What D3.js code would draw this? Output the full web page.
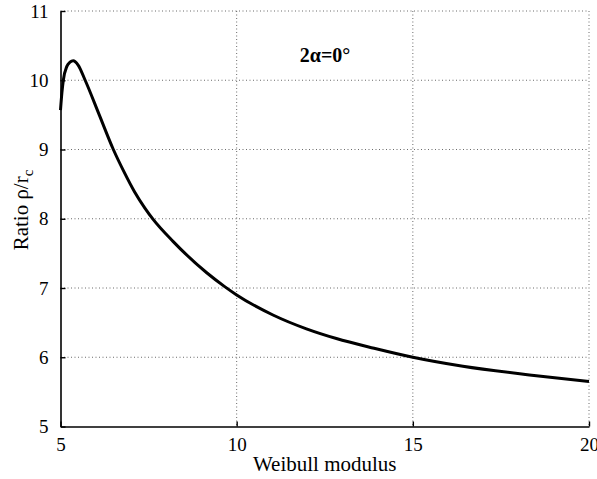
<!DOCTYPE html>
<html>
<head>
<meta charset="utf-8">
<script src="https://cdn.jsdelivr.net/npm/d3@7"></script>
<style>
  body { margin: 0; background: #fff; }
  svg { display: block; }
  text { font-family: "Liberation Serif", "Times New Roman", serif; fill: #000; }
</style>
</head>
<body>
<div id="chart"></div>
<script>
// Weibull modulus vs ratio rho/rc
var modulus = [5.0, 5.04, 5.08, 5.18, 5.27, 5.36, 5.5, 5.7, 6.1, 6.5, 6.8, 7.1, 7.4, 7.63, 8.2, 9.15, 9.66, 10.0, 11.03, 11.98, 12.83, 13.9, 15, 16.42, 18.31, 20];
var ratio = [9.57, 9.82, 10.0, 10.2, 10.26, 10.28, 10.22, 10.0, 9.5, 9.0, 8.68, 8.39, 8.15, 7.99, 7.67, 7.22, 7.02, 6.9, 6.61, 6.41, 6.27, 6.13, 6.0, 5.87, 5.745, 5.65];
var xTicks = [5, 10, 15, 20];
var yTicks = [5, 6, 7, 8, 9, 10, 11];

var width = 597, height = 479;
var margin = {top: 11, right: 8, bottom: 52.5, left: 60.5};
var w = width - margin.left - margin.right;
var h = height - margin.top - margin.bottom;

var svg = d3.select('#chart').append('svg')
	.attr('width', width)
	.attr('height', height);

var g = svg.append('g').attr('transform', 'translate(' + margin.left + ',' + margin.top + ')');

var x = d3.scaleLinear().domain([5, 20]).range([0, w]);
var y = d3.scaleLinear().domain([5, 11]).range([h, 0]);

// dotted grid
g.append('g').selectAll('line')
	.data(xTicks.slice(1))
	.enter().append('line')
	.attr('x1', d => x(d)).attr('x2', d => x(d))
	.attr('y1', 0).attr('y2', h)
	.attr('stroke', '#444').attr('stroke-width', 0.8)
	.attr('stroke-dasharray', '1,2.5');

g.append('g').selectAll('line')
	.data(yTicks.slice(1))
	.enter().append('line')
	.attr('x1', 0).attr('x2', w)
	.attr('y1', d => y(d)).attr('y2', d => y(d))
	.attr('stroke', '#444').attr('stroke-width', 0.8)
	.attr('stroke-dasharray', '1,2.5');

// axes, ticks pointing inwards
var xAxis = g.append('g')
	.attr('transform', 'translate(0,' + h + ')')
	.call(d3.axisBottom(x).tickValues(xTicks).tickFormat(d3.format('d'))
		.tickSize(-5).tickPadding(11).tickSizeOuter(0));
var yAxis = g.append('g')
	.call(d3.axisLeft(y).tickValues(yTicks).tickFormat(d3.format('d'))
		.tickSize(-5).tickPadding(12).tickSizeOuter(0));

[xAxis, yAxis].forEach(function(a){
	a.attr('font-family', '"Liberation Serif", serif').attr('font-size', 19);
	a.select('.domain').attr('stroke', '#000').attr('stroke-width', 1.6);
	a.selectAll('.tick line').attr('stroke', '#000').attr('stroke-width', 1.4);
	a.selectAll('.tick text').attr('fill', '#000');
});

// curve
var line = d3.line()
	.x((d, i) => x(modulus[i]))
	.y(d => y(d))
	.curve(d3.curveMonotoneX);

g.append('path')
	.datum(ratio)
	.attr('fill', 'none')
	.attr('stroke', '#000')
	.attr('stroke-width', 3)
	.attr('stroke-linejoin', 'round')
	.attr('d', line);

// labels
svg.append('text')
	.attr('x', margin.left + w / 2)
	.attr('y', 471)
	.attr('text-anchor', 'middle')
	.style('font-size', '21px')
	.text('Weibull modulus');

var yl = svg.append('text')
	.attr('transform', 'translate(28,210) rotate(-90)')
	.attr('text-anchor', 'middle')
	.style('font-size', '21px');
yl.append('tspan').text('Ratio \u03c1/r');
yl.append('tspan').attr('dy', 5).style('font-size', '15px').text('c');

svg.append('text')
	.attr('x', 325)
	.attr('y', 62)
	.attr('text-anchor', 'middle')
	.style('font-size', '20px')
	.style('font-weight', 'bold')
	.text('2\u03b1=0\u00b0');
</script>
</body>
</html>
